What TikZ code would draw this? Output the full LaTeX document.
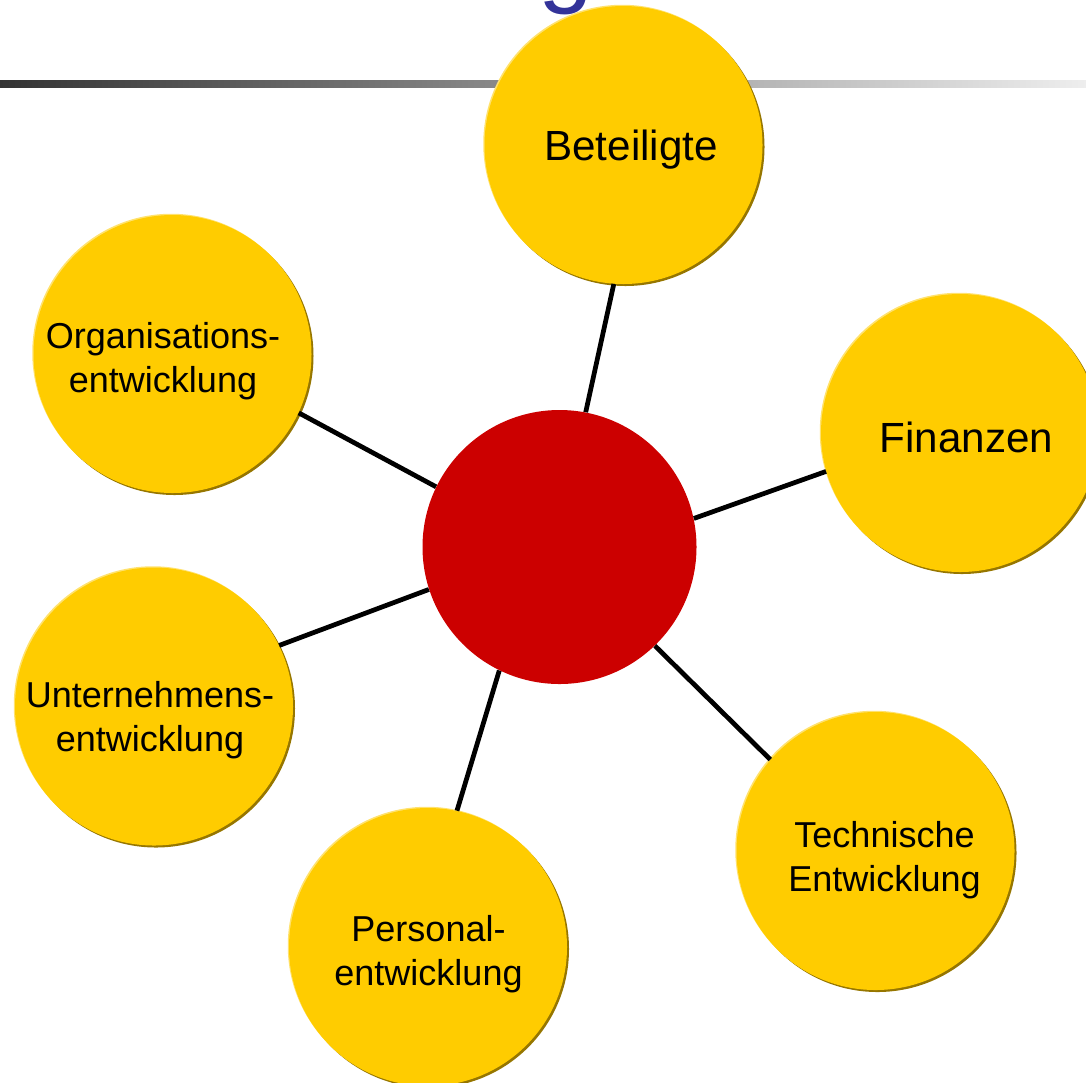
\documentclass[tikz,border=0pt]{standalone}
\usepackage{fontspec}
\setmainfont{Liberation Sans}
\usepackage{tikz}
\usetikzlibrary{calc}
\usetikzlibrary{positioning}
\usepackage{color}
\definecolor{ballyellow}{RGB}{255, 204, 0}
\definecolor{ballrim}{RGB}{150, 118, 0}
\definecolor{ballhigh}{RGB}{255, 226, 110}
\definecolor{kernred}{RGB}{204, 0, 0}
\definecolor{titleblue}{RGB}{51, 51, 153}
\definecolor{bardark}{RGB}{51, 51, 51}
\definecolor{barlight}{RGB}{238, 238, 238}

\begin{document}
\begin{tikzpicture}[
        ball/.style    ={circle, minimum size=5.56cm, inner sep=0pt, fill=ballyellow,
                         preaction={fill=ballrim,  transform canvas={shift={(0.04,-0.04)}}},
                         preaction={fill=ballhigh, transform canvas={shift={(-0.025,0.025)}}}},
        kern/.style    ={circle, minimum size=5.48cm, inner sep=0pt, fill=kernred},
        balltext/.style={align=center, font=\fontsize{20.5}{25}\selectfont},
        bigtext/.style ={align=center, font=\fontsize{24}{28}\selectfont},
        spoke/.style   ={line width=2.7pt, black}
    ]
            \useasboundingbox                                             ( 0.00, 0.00) rectangle (21.72,-21.64);
            \shade[left color=bardark, right color=barlight]              ( 0.00,-1.60) rectangle (21.72,-1.74);
            \node[anchor=base west, text=titleblue, font=\fontsize{56}{60}\selectfont] (titel) at (10.64,0.12) {g};
            % circles
            \node[kern] (mitte) at (11.19,-10.94) {};
            \node[ball] (bet)   at (12.47, -2.90) {};
            \node[ball] (fin)   at (19.20, -8.66) {};
            \node[ball] (org)   at ( 3.45, -7.08) {};
            \node[ball] (unt)   at ( 3.08,-14.13) {};
            \node[ball] (pers)  at ( 8.56,-18.94) {};
            \node[ball] (tech)  at (17.51,-17.02) {};
            % labels
            \node[bigtext]  (bet-t)  at (12.62, -3.00) {Beteiligte};
            \node[bigtext]  (fin-t)  at (19.33, -8.74) {Finanzen};
            \node[balltext] (org-t)  at ( 3.26, -7.22) {Organisations-\\entwicklung};
            \node[balltext] (unt-t)  at ( 3.00,-14.40) {Unternehmens-\\entwicklung};
            \node[balltext] (pers-t) at ( 8.57,-19.08) {Personal-\\entwicklung};
            \node[balltext] (tech-t) at (17.69,-17.20) {Technische\\Entwicklung};
            % spokes
            \draw[spoke] (mitte.79.3)  -- (bet.266.9);
            \draw[spoke] (mitte.12.7)  -- (fin.196.7);
            \draw[spoke] (mitte.154.7) -- (org.335.6);
            \draw[spoke] (mitte.198.4) -- (unt.26.6);
            \draw[spoke] (mitte.244.6) -- (pers.78.9);
            \draw[spoke] (mitte.314.8) -- (tech.139);
\end{tikzpicture}
\end{document}
